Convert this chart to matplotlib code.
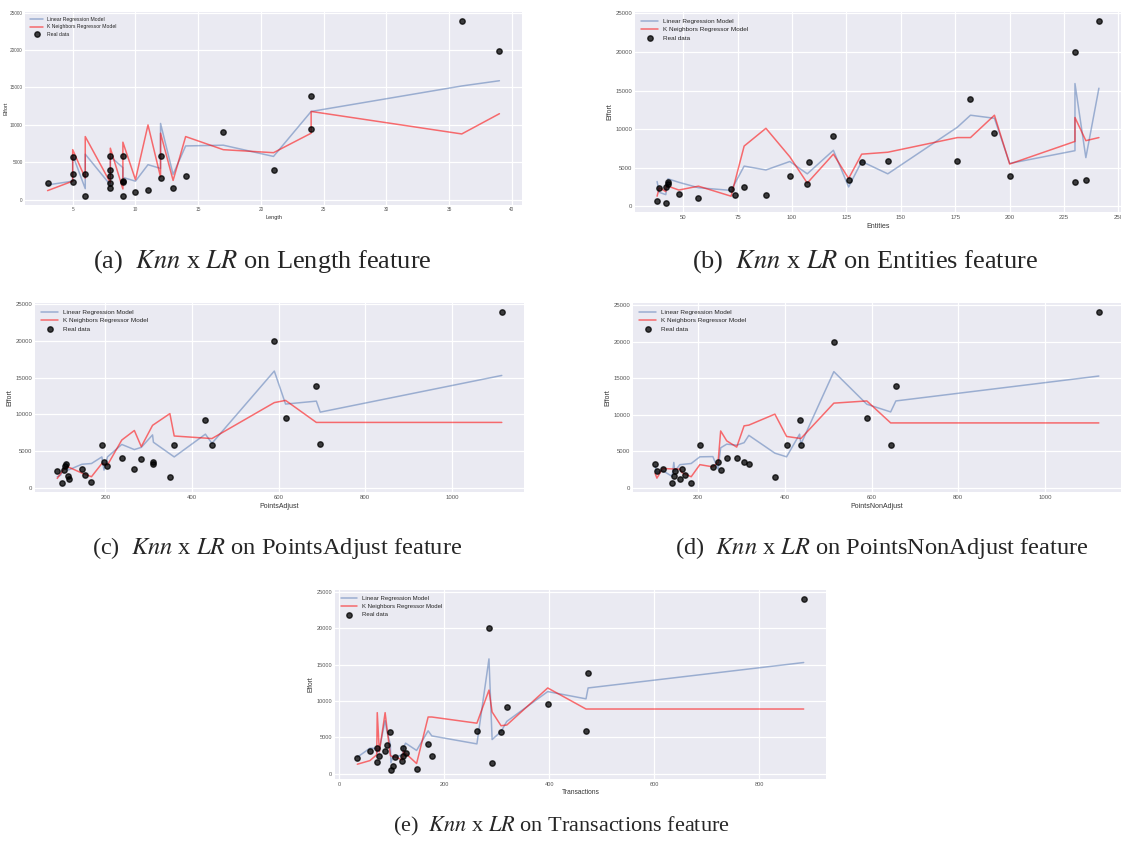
import matplotlib
matplotlib.use("Agg")
import matplotlib.pyplot as plt

plt.style.use("seaborn-v0_8-darkgrid")

W, H = 1121, 846

# ---- (a) Length ----
len_x = [3, 5, 5, 5, 6, 6, 8, 8, 8, 8, 8, 9, 9, 9, 9, 10, 11, 12, 12, 13, 14, 17, 21, 24, 24, 36, 39]
len_y = [2260, 5700, 3450, 2430, 490, 3500, 5880, 3940, 3140, 2260, 1550, 5800, 2480, 2350, 580,
         1060, 1370, 5880, 2920, 1590, 3140, 9100, 4030, 13800, 9470, 23900, 19900]
len_lr_x = [3, 5, 5, 6, 6, 8, 8, 9, 9, 10, 11, 12, 12, 13, 14, 17, 21, 24, 36, 39]
len_lr_y = [2000, 2500, 6000, 1500, 6100, 2000, 5800, 4300, 3000, 2500, 4700, 4200, 10200, 3400,
            7200, 7300, 5800, 11800, 15200, 15900]
len_knn_x = [3, 5, 5, 6, 6, 8, 8, 9, 9, 10, 11, 12, 12, 13, 14, 17, 21, 24, 24, 36, 39]
len_knn_y = [1240, 2500, 6700, 2900, 8450, 2300, 6900, 1460, 7700, 2700, 10000, 3050, 8900, 2600,
             8450, 6700, 6300, 8900, 11800, 8800, 11500]

# ---- (b) Entities ----
ent_x = [38, 39, 42, 42, 43, 43, 48, 57, 72, 74, 78, 88, 99, 107, 108, 119, 126, 132, 144, 176,
         182, 193, 200, 230, 230, 235, 241]
ent_y = [640, 2350, 430, 2480, 2900, 3200, 1620, 1070, 2220, 1500, 2440, 1410, 3970, 2860, 5770,
         9150, 3420, 5770, 5850, 5850, 13850, 9500, 3930, 3120, 19960, 3420, 24000]
ent_lr_x = [38, 39, 42, 43, 48, 57, 72, 78, 88, 99, 107, 119, 126, 132, 144, 176, 182, 193, 200,
            230, 230, 235, 241]
ent_lr_y = [3200, 1800, 1500, 3550, 3100, 2400, 2050, 5200, 4700, 5800, 4200, 7250, 2500, 5800,
            4200, 10250, 11800, 11400, 5550, 7200, 15900, 6300, 15300]
ent_knn_x = [38, 39, 42, 42, 43, 48, 57, 72, 78, 88, 99, 107, 119, 126, 132, 144, 176, 182, 193,
             200, 230, 230, 235, 241]
ent_knn_y = [1300, 2400, 1900, 2500, 2600, 2100, 2600, 1300, 7800, 10100, 6400, 3000, 6750, 3600,
             6750, 7000, 8900, 8900, 11800, 5470, 8400, 11500, 8500, 8900]

# ---- (c) PointsAdjust ----
pa_x = [89, 100, 104, 108, 110, 114, 117, 146, 153, 168, 192, 197, 205, 238, 267, 283, 309, 311,
        349, 359, 431, 446, 590, 616, 687, 696, 1115]
pa_y = [2260, 590, 2400, 2940, 3200, 1630, 1130, 2530, 1670, 720, 5800, 3530, 2940, 4030, 2490,
        3940, 3170, 3480, 1490, 5880, 9190, 5800, 19950, 9550, 13850, 5930, 24000]
pa_lr_x = [89, 97, 104, 110, 114, 146, 168, 192, 197, 205, 238, 267, 283, 309, 311, 359, 431,
           446, 590, 616, 687, 696, 1115]
pa_lr_y = [1500, 1700, 2850, 3450, 2400, 3200, 3300, 4200, 2400, 4200, 5900, 5200, 5500, 7200,
           6200, 4200, 7300, 6050, 15900, 11400, 11800, 10300, 15300]
pa_knn_x = [89, 104, 110, 117, 146, 168, 192, 205, 238, 267, 283, 309, 349, 359, 446, 590, 616,
            687, 1115]
pa_knn_y = [1270, 2500, 2850, 2760, 2000, 1500, 3300, 3100, 6500, 7800, 5600, 8500, 10100, 7050,
            6700, 11600, 11900, 8900, 8900]

# ---- (d) PointsNonAdjust ----
pn_x = [101, 105, 118, 140, 144, 146, 158, 163, 169, 184, 204, 234, 246, 252, 266, 289, 306, 317,
        377, 404, 434, 437, 513, 589, 644, 656, 1124]
pn_y = [3270, 2360, 2640, 640, 1590, 2360, 1180, 2550, 1770, 730, 5860, 2900, 3600, 2500, 4100,
        4050, 3550, 3230, 1550, 5950, 9230, 5820, 20000, 9600, 5950, 13900, 24100]
pn_lr_x = [101, 105, 118, 140, 144, 146, 158, 184, 204, 234, 246, 252, 266, 289, 306, 317, 377,
           404, 434, 437, 513, 589, 644, 656, 1124]
pn_lr_y = [3000, 2100, 2400, 1600, 3500, 2300, 3200, 3360, 4270, 4300, 2600, 5500, 6000, 5860,
           6200, 7200, 4770, 4270, 7360, 6000, 15900, 11450, 10400, 11900, 15300]
pn_knn_x = [101, 105, 118, 146, 158, 163, 184, 204, 234, 246, 252, 266, 289, 306, 317, 377, 404,
            437, 513, 589, 644, 1124]
pn_knn_y = [2000, 1360, 2680, 2600, 2600, 2100, 1550, 3200, 2900, 3500, 7800, 6450, 5600, 8500,
            8600, 10100, 7050, 6770, 11600, 11900, 8900, 8900]

# ---- (e) Transactions ----
tr_x = [34, 58, 71, 72, 76, 87, 90, 97, 98, 102, 106, 120, 121, 122, 126, 147, 169, 176, 262,
        285, 291, 308, 319, 397, 470, 474, 885]
tr_y = [2180, 3100, 1550, 3500, 2500, 3100, 3950, 5770, 450, 1090, 2270, 1680, 3500, 2500, 2860,
        640, 4050, 2410, 5900, 20000, 1450, 5770, 9180, 9550, 5860, 13860, 24100]
tr_lr_x = [34, 58, 71, 72, 76, 87, 90, 97, 98, 102, 106, 120, 122, 126, 147, 169, 176, 262, 285,
           291, 308, 319, 397, 470, 474, 885]
tr_lr_y = [2270, 3500, 3500, 2900, 3400, 7300, 6000, 4000, 1500, 2400, 2300, 2600, 3600, 4200,
           3200, 5900, 5200, 4100, 15800, 4700, 5800, 7200, 11300, 10300, 11800, 15300]
tr_knn_x = [34, 58, 71, 72, 76, 87, 90, 97, 102, 106, 120, 122, 126, 147, 169, 176, 262, 285,
            291, 308, 319, 397, 470, 474, 885]
tr_knn_y = [1300, 1800, 2600, 8400, 3000, 8400, 6600, 2500, 2300, 2300, 1900, 3100, 2800, 1400,
            7800, 7800, 6950, 11500, 8500, 6600, 6700, 11800, 8900, 8900, 8900]

# name, points, LR line, KNN line, axes box (px l,t,r,b), caption tag, caption centre,
# tick font scale, caption size
panels = [
    ("Length", len_x, len_y, len_lr_x, len_lr_y, len_knn_x, len_knn_y, (25, 12, 522, 205),
     "(a)", (262, 262), 0.8, 19),
    ("Entities", ent_x, ent_y, ent_lr_x, ent_lr_y, ent_knn_x, ent_knn_y, (635, 12, 1121, 212),
     "(b)", (865, 262), 1.0, 19),
    ("PointsAdjust", pa_x, pa_y, pa_lr_x, pa_lr_y, pa_knn_x, pa_knn_y, (35, 303, 524, 492),
     "(c)", (277, 548), 1.0, 17.6),
    ("PointsNonAdjust", pn_x, pn_y, pn_lr_x, pn_lr_y, pn_knn_x, pn_knn_y, (633, 303, 1121, 492),
     "(d)", (882, 548), 1.0, 17.6),
    ("Transactions", tr_x, tr_y, tr_lr_x, tr_lr_y, tr_knn_x, tr_knn_y, (335, 590, 826, 779),
     "(e)", (561, 826), 0.95, 16),
]

fig = plt.figure(figsize=(W / 100, H / 100), dpi=100)
fig.patch.set_facecolor("white")

for name, px, py, lx, ly, kx, ky, box, tag, cap, fs, cfs in panels:
    l, t, r, b = box
    ax = fig.add_axes([l / W, 1 - b / H, (r - l) / W, (b - t) / H])
    ax.plot(lx, ly, color="#4C72B0", alpha=0.5, lw=1.1, label="Linear Regression Model")
    ax.plot(kx, ky, color="red", alpha=0.55, lw=1.1, label="K Neighbors Regressor Model")
    ax.scatter(px, py, color="black", alpha=0.75, s=15, label="Real data", zorder=3)
    ax.set_yticks([0, 5000, 10000, 15000, 20000, 25000])
    ax.tick_params(labelsize=4.3 * fs, colors="#555555", pad=2 * fs)
    ax.set_xlabel(name, fontsize=5 * fs, labelpad=2, color="#333333")
    ax.set_ylabel("Effort", fontsize=5 * fs, labelpad=1.5 * fs, color="#333333")
    ax.legend(loc="upper left", fontsize=4.6 * fs, frameon=False, handlelength=2.6,
              borderaxespad=0.6, labelspacing=0.45)
    ax.grid(color="white", lw=0.9)
    fig.text(cap[0] / W, 1 - cap[1] / H,
             tag + r"  $\it{Knn}$ x $\it{LR}$ on " + name + " feature",
             ha="center", va="center", fontsize=cfs, family="Liberation Serif",
             math_fontfamily="stix")

fig.savefig("out.png", dpi=100)
